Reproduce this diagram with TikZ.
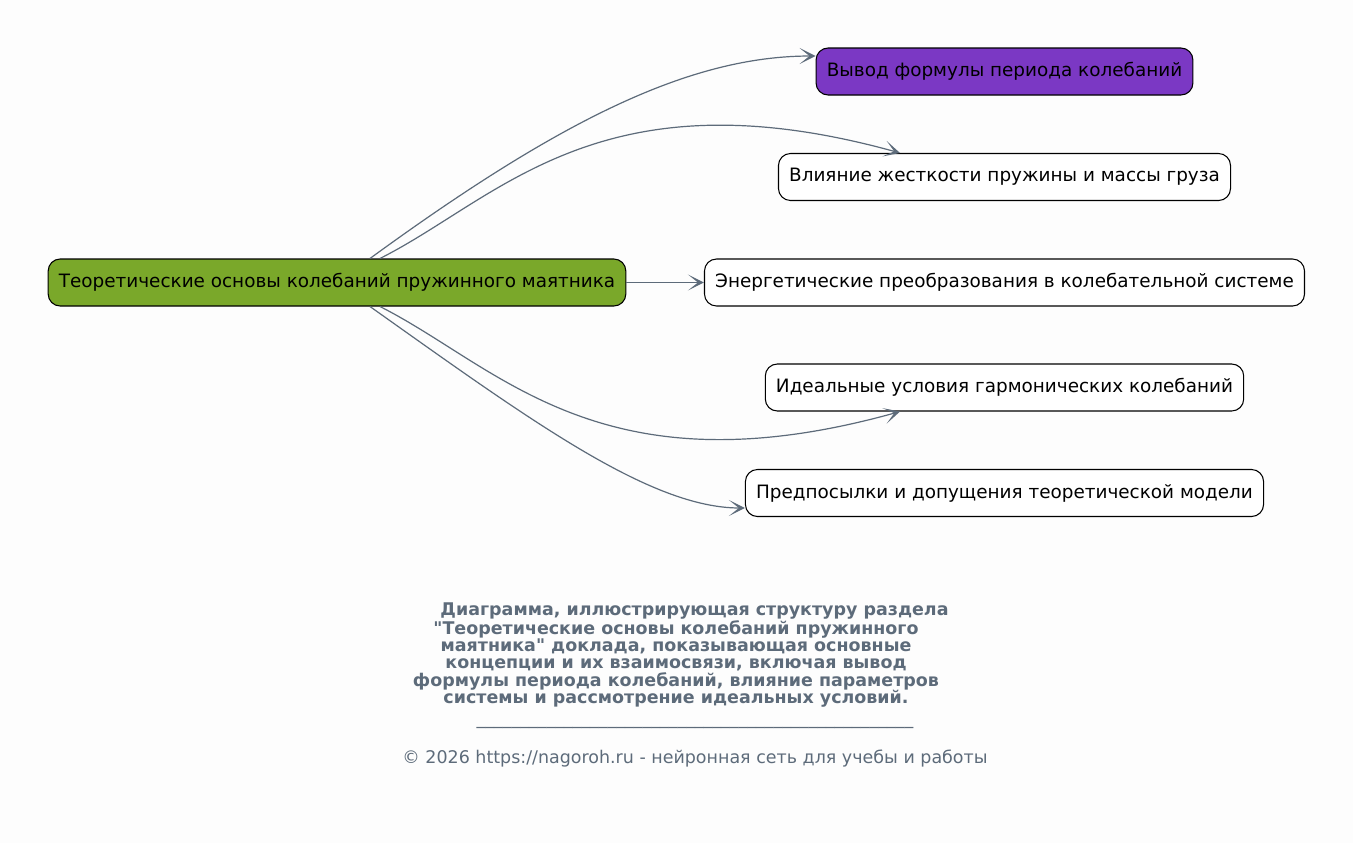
\documentclass[tikz,border=0pt]{standalone}
\usepackage{fontspec}
\setmainfont{DejaVu Sans}
\usetikzlibrary{arrows.meta,calc}
\definecolor{linkcol}{RGB}{93,107,122}
\definecolor{rootfill}{RGB}{122,168,42}
\definecolor{firstfill}{RGB}{123,56,196}
\definecolor{pagecol}{RGB}{253,253,253}
\tikzset{
  topic/.style={draw=black,line width=0.8pt,rounded corners=9pt,
    minimum height=35.25pt,inner xsep=8pt,
    font=\fontsize{13.8}{16}\selectfont},
  link/.style={draw=linkcol,line width=0.9pt,
    -{Stealth[length=12pt,width=12pt,inset=7.5pt]}}
}
\begin{document}
\begin{tikzpicture}[x=0.75pt,y=-0.75pt]
  \fill[pagecol] (0,0) rectangle (1353,843);
  \node[topic,fill=rootfill] (main) at (337,282.5)
    {Теоретические основы колебаний пружинного маятника};
  \foreach \y/\name/\col/\texn in {
      71.5/n1/firstfill/Вывод формулы периода колебаний,
      177/n2/white/Влияние жесткости пружины и массы груза,
      282.5/n3/white/Энергетические преобразования в колебательной системе,
      387.5/n4/white/Идеальные условия гармонических колебаний,
      493/n5/white/Предпосылки и допущения теоретической модели}
    \node[topic,fill=\col] (\name) at (1004.5,\y) {\texn};
  % links from the root
  \draw[link] ($(main.north)+(33,0)$) .. controls (560,120) and (690,56)
    .. ($(n1.west)+(0,-15.5)$);
  \draw[link] ($(main.north)+(43,0)$) .. controls (500,198) and (600,70)
    .. ($(n2.north)+(-104.5,0)$);
  \draw[link] (main) -- (n3);
  \draw[link] ($(main.south)+(43,0)$) .. controls (500,367) and (600,495)
    .. ($(n4.south)+(-104.5,0)$);
  \draw[link] ($(main.south)+(33,0)$) .. controls (530,420) and (650,508)
    .. ($(n5.west)+(0,15)$);
  % caption
  \node[text=linkcol,align=center,font=\fontsize{13.1}{13.1}\selectfont\bfseries]
    (caption) at (676,655)
    {\hspace*{27.75pt}Диаграмма, иллюстрирующая структуру раздела\\
     \textquotedbl Теоретические основы колебаний пружинного\\
     маятника\textquotedbl{} доклада, показывающая основные\\
     концепции и их взаимосвязи, включая вывод\\
     формулы периода колебаний, влияние параметров\\
     системы и рассмотрение идеальных условий.};
  \node[text=linkcol,font=\fontsize{13.1}{13.1}\selectfont,anchor=base]
    (rule) at (695,724)
    {\_\_\_\_\_\_\_\_\_\_\_\_\_\_\_\_\_\_\_\_\_\_\_\_\_\_\_\_\_\_\_\_\_\_\_\_\_\_\_\_\_\_\_\_\_\_\_\_\_\_};
  \node[text=linkcol,font=\fontsize{13.1}{13.1}\selectfont]
    (copy) at (695,759)
    {© 2026 https://nagoroh.ru - нейронная сеть для учебы и работы};
\end{tikzpicture}
\end{document}
